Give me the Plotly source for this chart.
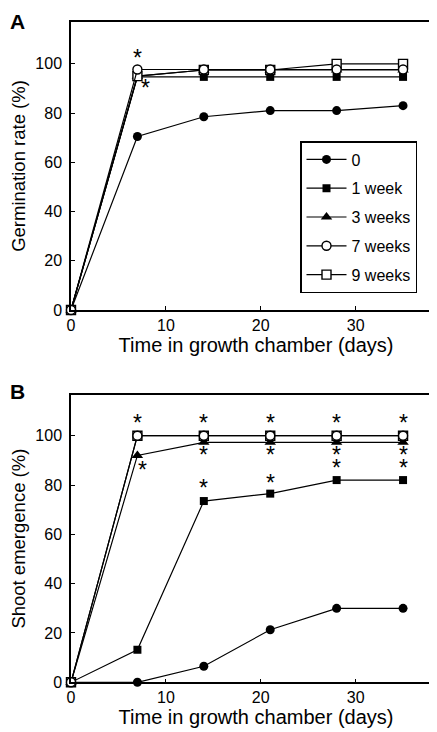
import plotly.graph_objects as go

days = [0, 7, 14, 21, 28, 35]
series_names = ["0", "1 week", "3 weeks", "7 weeks", "9 weeks"]

germ_0 = [0, 70.5, 78.5, 81, 81, 83]
germ_1w = [0, 94.7, 94.7, 94.7, 94.7, 94.7]
germ_3w = [0, 95, 97.5, 97.5, 97.5, 97.5]
germ_7w = [0, 97.7, 97.7, 97.7, 97.7, 97.7]
germ_9w = [0, 95, 97.5, 97.5, 100, 100]

shoot_0 = [0, 0, 6.5, 21.3, 30, 30]
shoot_1w = [0, 13.2, 73.5, 76.5, 82, 82]
shoot_3w = [0, 92, 97.3, 97.3, 97.3, 97.3]
shoot_7w = [0, 100, 100, 100, 100, 100]
shoot_9w = [0, 100, 100, 100, 100, 100]

x_ticks = [0, 10, 20, 30]
y_ticks = [0, 20, 40, 60, 80, 100]

# asterisk positions (day, value)
stars_A = [(7, 102.5), (7.8, 90)]
stars_B = [(7, 105), (14, 105), (21, 105), (28, 105), (35, 105),
           (7.5, 86), (14, 92.3), (21, 92.3), (28, 92.3), (35, 92.3),
           (28, 86.8), (35, 86.8), (14, 78.7), (21, 81)]

FONT = "Arial, Liberation Sans, sans-serif"

W, H = 437, 732
xl, xr = 63 / W, 433 / W
A_top, A_bot = 1 - 14 / H, 1 - 302 / H
B_top, B_bot = 1 - 387 / H, 1 - 674.3 / H

fig = go.Figure()

styles = {
    "0": dict(symbol="circle", size=9),
    "1 week": dict(symbol="square", size=8),
    "3 weeks": dict(symbol="triangle-up", size=10),
    "7 weeks": dict(symbol="circle-open", size=9),
    "9 weeks": dict(symbol="square-open", size=9),
}

def marker(name):
    s = styles[name]
    sym = s["symbol"]
    if sym.endswith("-open"):
        return dict(symbol=sym.replace("-open", ""), size=s["size"], color="white",
                    line=dict(color="black", width=1.4))
    return dict(symbol=sym, size=s["size"], color="black", line=dict(color="black", width=0))

A_data = {"0": germ_0, "1 week": germ_1w, "3 weeks": germ_3w, "7 weeks": germ_7w, "9 weeks": germ_9w}
B_data = {"0": shoot_0, "1 week": shoot_1w, "3 weeks": shoot_3w, "7 weeks": shoot_7w, "9 weeks": shoot_9w}

draw_order = ["0", "1 week", "3 weeks", "9 weeks", "7 weeks"]

for name in draw_order:
    rank = series_names.index(name)
    fig.add_trace(go.Scatter(x=days, y=A_data[name], mode="lines+markers", name=name,
                             line=dict(color="black", width=1.2), marker=marker(name),
                             xaxis="x", yaxis="y", cliponaxis=False,
                             legendgroup=name, legendrank=rank + 1, showlegend=True))
for name in draw_order:
    fig.add_trace(go.Scatter(x=days, y=B_data[name], mode="lines+markers", name=name,
                             line=dict(color="black", width=1.2), marker=marker(name),
                             xaxis="x2", yaxis="y2", cliponaxis=False,
                             legendgroup=name, showlegend=False))

axis_common = dict(showline=True, linecolor="black", linewidth=1.5, mirror=True,
                   ticks="inside", ticklen=4, tickwidth=1.2, tickcolor="black",
                   showgrid=False, zeroline=False,
                   tickfont=dict(family=FONT, size=16, color="black"), automargin=False)

xtitle_font = dict(family=FONT, size=20, color="black")
ytitle_font = dict(family=FONT, size=18.5, color="black")

fig.update_layout(
    width=W, height=H, margin=dict(l=0, r=0, t=0, b=0),
    paper_bgcolor="white", plot_bgcolor="white",
    xaxis=dict(domain=[xl, xr], anchor="y", range=[0, 39], tickvals=x_ticks,
               title=dict(text="Time in growth chamber (days)", font=xtitle_font, standoff=5),
               **axis_common),
    yaxis=dict(domain=[A_bot, A_top], anchor="x", range=[0, 117], tickvals=y_ticks,
               ticklabelstandoff=4,
               title=dict(text="Germination rate (%)", font=ytitle_font, standoff=6),
               **axis_common),
    xaxis2=dict(domain=[xl, xr], anchor="y2", range=[0, 39], tickvals=x_ticks,
                title=dict(text="Time in growth chamber (days)", font=xtitle_font, standoff=5),
                **axis_common),
    yaxis2=dict(domain=[B_bot, B_top], anchor="x2", range=[0, 116.5], tickvals=y_ticks,
                ticklabelstandoff=4,
                title=dict(text="Shoot emergence (%)", font=ytitle_font, standoff=6),
                **axis_common),
    legend=dict(x=292 / W, y=1 - 133 / H, xanchor="left", yanchor="top",
                bordercolor="black", borderwidth=1.5, bgcolor="white",
                font=dict(family=FONT, size=16, color="black"),
                tracegroupgap=5, itemwidth=40),
    showlegend=True,
)

ann = []
for (x, y) in stars_A:
    ann.append(dict(x=x, y=y, xref="x", yref="y", text="*", showarrow=False, yshift=0,
                    font=dict(family=FONT, size=23, color="black")))
for (x, y) in stars_B:
    ann.append(dict(x=x, y=y, xref="x2", yref="y2", text="*", showarrow=False, yshift=0,
                    font=dict(family=FONT, size=23, color="black")))
ann.append(dict(x=0, y=1, xref="paper", yref="paper", xanchor="left", yanchor="top",
                text="<b>A</b>", showarrow=False, font=dict(family=FONT, size=21, color="black")))
ann.append(dict(x=0, y=1 - 370 / H, xref="paper", yref="paper", xanchor="left", yanchor="top",
                text="<b>B</b>", showarrow=False, font=dict(family=FONT, size=21, color="black")))
fig.update_layout(annotations=ann)

fig.write_html("out.html")
